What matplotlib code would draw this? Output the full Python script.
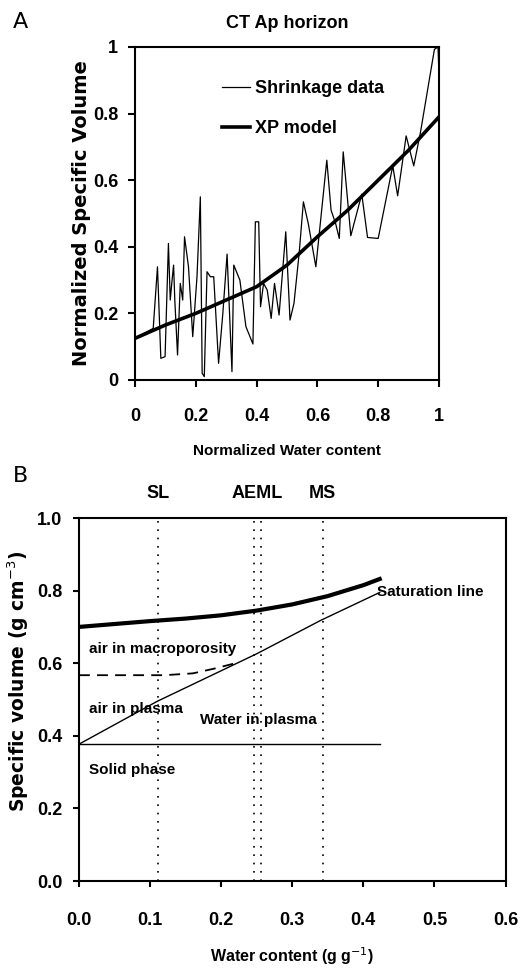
import numpy as np
import matplotlib
matplotlib.use("Agg")
import matplotlib.pyplot as plt

# panel A: shrinkage data (normalized)
shr_x = [0.0, 0.03, 0.06, 0.074, 0.085, 0.099, 0.11, 0.116, 0.121, 0.127, 0.131, 0.14, 0.149,
         0.157, 0.163, 0.176, 0.19, 0.204, 0.215, 0.221, 0.228, 0.237, 0.248, 0.259, 0.275,
         0.289, 0.303, 0.319, 0.325, 0.345, 0.365, 0.388, 0.396, 0.407, 0.413, 0.423, 0.435,
         0.448, 0.459, 0.474, 0.496, 0.51, 0.523, 0.54, 0.554, 0.57, 0.595, 0.631, 0.645,
         0.66, 0.672, 0.685, 0.71, 0.746, 0.765, 0.80, 0.848, 0.864, 0.892, 0.917, 0.939,
         0.985, 0.997, 1.0]
shr_y = [0.125, 0.14, 0.155, 0.34, 0.065, 0.07, 0.41, 0.24, 0.29, 0.345, 0.24, 0.075, 0.29,
         0.24, 0.43, 0.34, 0.13, 0.31, 0.55, 0.02, 0.01, 0.325, 0.31, 0.31, 0.05,
         0.2, 0.378, 0.025, 0.345, 0.30, 0.16, 0.108, 0.475, 0.475, 0.22, 0.29, 0.27,
         0.185, 0.29, 0.195, 0.445, 0.18, 0.23, 0.38, 0.535, 0.47, 0.34, 0.66, 0.51,
         0.47, 0.425, 0.685, 0.433, 0.558, 0.428, 0.425, 0.643, 0.553, 0.733, 0.643, 0.743,
         0.993, 1.0, 0.913]

# panel A: XP model
xp_x = [0.0, 0.1, 0.2, 0.3, 0.4, 0.5, 0.6, 0.7, 0.8, 0.9, 1.0]
xp_y = [0.125, 0.165, 0.2, 0.24, 0.28, 0.345, 0.43, 0.51, 0.6, 0.69, 0.79]

# panel B
sat_x = [0.0, 0.05, 0.1, 0.15, 0.2, 0.25, 0.3, 0.35, 0.4, 0.423]
sat_y = [0.70, 0.708, 0.716, 0.723, 0.732, 0.745, 0.762, 0.785, 0.815, 0.832]
wat_x = [0.0, 0.11, 0.25, 0.34, 0.423]
wat_y = [0.377, 0.495, 0.626, 0.718, 0.795]
solid_x = [0.0, 0.423]
solid_y = [0.377, 0.377]
macro_x = [0.0, 0.12, 0.16, 0.19, 0.22]
macro_y = [0.567, 0.567, 0.572, 0.585, 0.60]
limits = {"SL": 0.111, "AE": 0.2466, "ML": 0.256, "MS": 0.343}

narrow = ["Liberation Sans", "DejaVu Sans"]
wide = ["DejaVu Sans"]

fig = plt.figure(figsize=(5.31, 9.75), dpi=100)

# ---- panel A
ax = fig.add_axes([0.2542, 0.6103, 0.5725, 0.3415])
ax.plot(shr_x, shr_y, color="black", lw=0.9, label="Shrinkage data")
ax.plot(xp_x, xp_y, color="black", lw=2.6, label="XP model")
ax.set_xlim(0, 1)
ax.set_ylim(0, 1)
ax.set_xticks([0, 0.2, 0.4, 0.6, 0.8, 1])
ax.set_xticklabels(["0", "0.2", "0.4", "0.6", "0.8", "1"])
ax.set_yticks([0, 0.2, 0.4, 0.6, 0.8, 1])
ax.set_yticklabels(["0", "0.2", "0.4", "0.6", "0.8", "1"])
ax.tick_params(direction="out", length=5, width=1.5)
ax.tick_params(axis="x", pad=15)
ax.tick_params(axis="y", pad=7)
for t in ax.get_xticklabels() + ax.get_yticklabels():
    t.set_family(narrow)
    t.set_fontweight("bold")
    t.set_fontsize(13)
for s in ax.spines.values():
    s.set_linewidth(1.5)
ax.set_title("CT Ap horizon", family=narrow, fontweight="bold", fontsize=13, pad=14)
ax.set_xlabel("Normalized Water content", family=narrow, fontweight="bold",
              fontsize=11, labelpad=14)
ax.set_ylabel("Normalized Specific Volume", family=wide, fontweight="bold",
              fontsize=14)
ax.yaxis.set_label_coords(-0.145, 0.5)
ax.legend(loc="upper left", bbox_to_anchor=(0.286, 0.90), frameon=False,
          borderpad=0, borderaxespad=0, handlelength=1.55, handletextpad=0.3,
          labelspacing=1.25, prop={"family": narrow, "weight": "bold", "size": 13})
fig.text(0.025, 0.977, "A", fontsize=16, family="DejaVu Sans", va="center")

# ---- panel B
bx = fig.add_axes([0.1488, 0.0964, 0.8032, 0.3723])
bx.plot(sat_x, sat_y, color="black", lw=3.0)
bx.plot(wat_x, wat_y, color="black", lw=1.0)
bx.plot(solid_x, solid_y, color="black", lw=1.0)
bx.plot(macro_x, macro_y, color="black", lw=1.3, ls=(0, (6, 4)))
for k, v in limits.items():
    bx.axvline(v, color="black", lw=1.2, ls=(0, (1, 4)))
bx.set_xlim(0, 0.6)
bx.set_ylim(0, 1.0)
bx.set_xticks(np.arange(0, 0.61, 0.1))
bx.set_xticklabels([f"{v:.1f}" for v in np.arange(0, 0.61, 0.1)])
bx.set_yticks(np.arange(0, 1.01, 0.2))
bx.set_yticklabels([f"{v:.1f}" for v in np.arange(0, 1.01, 0.2)])
bx.tick_params(direction="out", length=4, width=1.5)
bx.tick_params(axis="x", pad=18)
bx.tick_params(axis="y", pad=8)
for t in bx.get_xticklabels() + bx.get_yticklabels():
    t.set_family(narrow)
    t.set_fontweight("bold")
    t.set_fontsize(13)
for s in bx.spines.values():
    s.set_linewidth(1.5)
bx.set_xlabel("Water content (g g$^{-1}$)", family=narrow, fontweight="bold",
              fontsize=11.5, labelpad=12)
bx.set_ylabel("Specific volume (g cm$^{-3}$)", family=wide, fontweight="bold",
              fontsize=13.5)
bx.yaxis.set_label_coords(-0.112, 0.55)

tkw = dict(family=narrow, fontweight="bold", fontsize=13, color="black")
bx.text(0.111, 1.045, "SL", ha="center", va="bottom", **tkw)
bx.text(0.251, 1.045, "AEML", ha="center", va="bottom", **tkw)
bx.text(0.343, 1.045, "MS", ha="center", va="bottom", **tkw)

lkw = dict(family=narrow, fontweight="bold", fontsize=11, color="black", va="center")
bx.text(0.419, 0.795, "Saturation line", ha="left", **lkw)
bx.text(0.014, 0.64, "air in macroporosity", ha="left", **lkw)
bx.text(0.014, 0.475, "air in plasma", ha="left", **lkw)
bx.text(0.17, 0.443, "Water in plasma", ha="left", **lkw)
bx.text(0.014, 0.305, "Solid phase", ha="left", **lkw)
fig.text(0.025, 0.512, "B", fontsize=16, family="DejaVu Sans", va="center")

fig.savefig("out.png", dpi=100)
